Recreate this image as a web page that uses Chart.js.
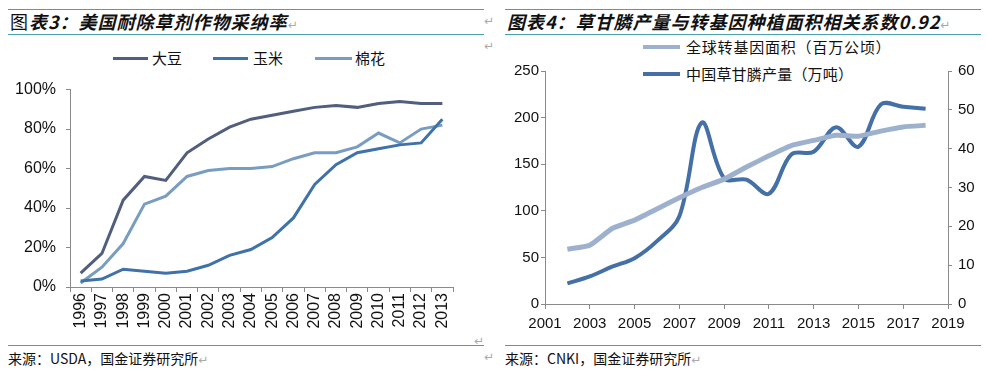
<!DOCTYPE html>
<html><head><meta charset="utf-8">
<script src="https://cdn.jsdelivr.net/npm/chart.js@4.4.0/dist/chart.umd.min.js"></script>
<style>
body{margin:0;width:988px;height:372px;background:#fff;position:relative;overflow:hidden;font-family:"Noto Sans CJK SC",sans-serif;color:#111;}
.hl{position:absolute;height:1px;background:#4a9fae;}
.t{position:absolute;white-space:nowrap;line-height:1;}
.title{font-size:18px;font-style:italic;font-weight:bold;letter-spacing:1px;}
.src{font-size:14px;}
.leg{font-size:15px;}
.ll{position:absolute;height:3px;}
.ret{color:#aaa;font-family:"DejaVu Sans";font-style:normal;font-weight:normal;font-size:12px;}
canvas{position:absolute;}
</style>
</head><body>
<div class="hl" style="left:8px;top:9px;width:476px"></div>
<div class="hl" style="left:8px;top:34px;width:476px"></div>
<div class="hl" style="left:505px;top:9px;width:476px"></div>
<div class="hl" style="left:505px;top:34px;width:476px"></div>
<div class="hl" style="left:8px;top:345px;width:476px"></div>
<div class="hl" style="left:505px;top:345px;width:476px"></div>

<div class="t title" style="left:10px;top:12px"><span style="font-style:normal;font-weight:normal">图</span>表3：美国耐除草剂作物采纳率<span class="ret">↵</span></div>
<div class="t title" style="left:507px;top:12px">图表4：草甘膦产量与转基因种植面积相关系数0.92<span class="ret">↵</span></div>
<div class="t ret" style="left:484px;top:15px">↵</div>
<div class="t ret" style="left:484px;top:40px">↵</div>
<div class="t ret" style="left:474px;top:335px">↵</div>
<div class="t ret" style="left:484px;top:351px">↵</div>

<div class="t src" style="left:8px;top:351px">来源：USDA，国金证券研究所<span class="ret">↵</span></div>
<div class="t src" style="left:505px;top:351px">来源：CNKI，国金证券研究所<span class="ret">↵</span></div>

<div class="ll" style="left:113px;top:57px;width:35px;background:#525e7d"></div>
<div class="t leg" style="left:152px;top:50px">大豆</div>
<div class="ll" style="left:213px;top:57px;width:35px;background:#3e72a8"></div>
<div class="t leg" style="left:253px;top:50px">玉米</div>
<div class="ll" style="left:315px;top:57px;width:37px;background:#789dc0"></div>
<div class="t leg" style="left:355px;top:50px">棉花</div>

<div class="ll" style="left:643px;top:45px;width:37px;height:4px;background:#9db1ce"></div>
<div class="t leg" style="left:686px;top:39px;letter-spacing:0.8px">全球转基因面积（百万公顷）</div>
<div class="ll" style="left:643px;top:72px;width:37px;height:4px;background:#4470a5"></div>
<div class="t leg" style="left:686px;top:66px;letter-spacing:0.2px">中国草甘膦产量（万吨）</div>

<canvas id="c1" width="490" height="276" style="left:0;top:70px"></canvas>
<canvas id="c2" width="494" height="290" style="left:494px;top:56px"></canvas>

<script>
// ---- Chart 3 data ----
const years1 = ['1996','1997','1998','1999','2000','2001','2002','2003','2004','2005','2006','2007','2008','2009','2010','2011','2012','2013'];
const soybean = [7,17,44,56,54,68,75,81,85,87,89,91,92,91,93,94,93,93];
const corn = [3,4,9,8,7,8,11,16,19,25,35,52,62,68,70,72,73,85];
const cotton = [2,10,22,42,46,56,59,60,60,61,65,68,68,71,78,73,80,82];
const pctTicks = [0,20,40,60,80,100];

// ---- Chart 4 data ----
const years2 = [2002,2003,2004,2005,2006,2007,2008,2009,2010,2011,2012,2013,2014,2015,2016,2017,2018];
const gmArea = [58.7,63,81,90,102,114,125,134,147,159,170,175.5,181,180,185.5,190,191.7];
const glyphosate = [5.3,7.1,9.6,11.8,16.2,22.6,46.7,32.4,32,28.4,38.5,39.2,45.5,40.5,51.4,50.8,50.3];
const xTicks2 = [2001,2003,2005,2007,2009,2011,2013,2015,2017,2019];

const axisGrey = '#8a8a8a';
const tickFont = {family:'"Liberation Sans", Arial, sans-serif', size:15};

new Chart(document.getElementById('c1'), {
  type:'line',
  data:{labels:years1, datasets:[
    {label:'大豆', data:soybean, borderColor:'#525e7d', borderWidth:3, pointRadius:0, tension:0},
    {label:'玉米', data:corn, borderColor:'#3e72a8', borderWidth:3, pointRadius:0, tension:0},
    {label:'棉花', data:cotton, borderColor:'#789dc0', borderWidth:3, pointRadius:0, tension:0}
  ]},
  options:{
    responsive:false, animation:false, devicePixelRatio:1,
    layout:{padding:{top:16,right:37,left:0,bottom:0}},
    plugins:{legend:{display:false}, tooltip:{enabled:false}},
    scales:{
      x:{offset:true,
         grid:{offset:true, drawOnChartArea:false, drawTicks:true, tickLength:5, color:axisGrey},
         border:{color:axisGrey},
         ticks:{minRotation:90, maxRotation:90, autoSkip:false, padding:1, color:'#111', font:{family:'"Liberation Sans", Arial, sans-serif', size:16}},
         afterFit:s=>{s.height=59;}},
      y:{min:0,max:100,
         afterBuildTicks:s=>{s.ticks=pctTicks.map(v=>({value:v}));},
         grid:{drawOnChartArea:false, drawTicks:true, tickLength:4, color:axisGrey},
         border:{color:axisGrey},
         ticks:{padding:10, color:'#111', font:{family:'"Liberation Sans Narrow","Liberation Sans", Arial, sans-serif', size:16}, callback:v=>v+'%'},
         afterFit:s=>{s.width=70;}}
    }
  }
});

new Chart(document.getElementById('c2'), {
  type:'line',
  data:{datasets:[
    {label:'全球转基因面积（百万公顷）', data:years2.map((y,i)=>({x:y,y:gmArea[i]})), yAxisID:'yL', borderColor:'#9db1ce', borderWidth:5, pointRadius:0, tension:0.15},
    {label:'中国草甘膦产量（万吨）', data:years2.map((y,i)=>({x:y,y:glyphosate[i]})), yAxisID:'yR', borderColor:'#4470a5', borderWidth:4, pointRadius:0, tension:0.35}
  ]},
  options:{
    responsive:false, animation:false, devicePixelRatio:1,
    layout:{padding:{top:10,right:0,left:0,bottom:0}},
    plugins:{legend:{display:false}, tooltip:{enabled:false}},
    scales:{
      x:{type:'linear', min:2001, max:2019,
         afterBuildTicks:s=>{s.ticks=xTicks2.map(v=>({value:v}));},
         grid:{drawOnChartArea:false, drawTicks:true, tickLength:5, color:axisGrey},
         border:{color:axisGrey},
         ticks:{padding:6, color:'#111', font:tickFont, callback:v=>String(v)},
         afterFit:s=>{s.height=42;}},
      yL:{position:'left', min:0, max:250,
         ticks:{stepSize:50, padding:2, color:'#111', font:tickFont},
         grid:{drawOnChartArea:false, drawTicks:true, tickLength:4, color:axisGrey},
         border:{color:axisGrey},
         afterFit:s=>{s.width=51;}},
      yR:{position:'right', min:0, max:60,
         ticks:{stepSize:10, padding:6, color:'#111', font:tickFont},
         grid:{drawOnChartArea:false, drawTicks:true, tickLength:4, color:axisGrey},
         border:{color:axisGrey},
         afterFit:s=>{s.width=40;}}
    }
  }
});
</script>
</body></html>
